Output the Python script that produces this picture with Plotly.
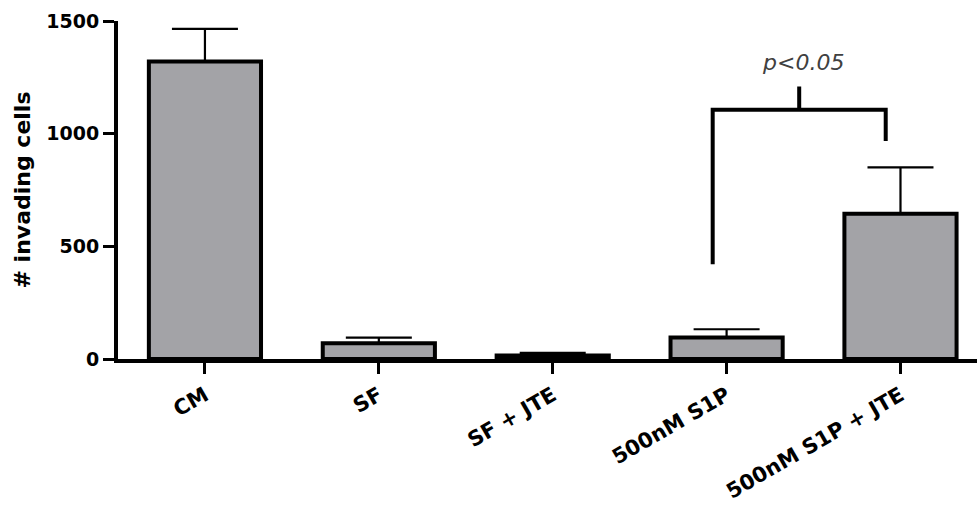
import plotly.graph_objects as go

# ---- data ----
categories = ["CM", "SF", "SF + JTE", "500nM S1P", "500nM S1P + JTE"]
means = [1320, 70, 15, 95, 645]
sem = [145, 25, 12, 37, 205]
y_ticks = [0, 500, 1000, 1500]
y_title = "# invading cells"
sig_label = "p<0.05"

# significance bracket (data units)
br_x_left, br_x_right = 2.92, 3.915
br_y_left_bottom, br_y_right_bottom = 420, 968
br_y_top, br_y_tick = 1106, 1209

FONT = "DejaVu Sans, Arial, sans-serif"
x_pos = list(range(len(categories)))

fig = go.Figure()
fig.add_trace(go.Bar(
    x=x_pos, y=means, width=0.645,
    marker=dict(color="#a3a3a7", line=dict(color="black", width=4)),
    error_y=dict(type="data", symmetric=False, array=sem,
                 arrayminus=[0] * len(sem), color="black",
                 thickness=2.2, width=33),
    showlegend=False, hoverinfo="skip",
))

xm = (br_x_left + br_x_right) / 2
path = (f"M {br_x_left},{br_y_left_bottom} L {br_x_left},{br_y_top} "
        f"L {br_x_right},{br_y_top} L {br_x_right},{br_y_right_bottom} "
        f"M {xm},{br_y_top} L {xm},{br_y_tick}")
fig.add_shape(type="path", path=path, xref="x", yref="y",
              line=dict(color="black", width=4))
fig.add_annotation(x=xm + 0.02, y=1316, xref="x", yref="y", text=sig_label,
                   showarrow=False, yanchor="middle",
                   font=dict(family=FONT, size=22, color="#404040", style="italic"))

fig.update_layout(
    width=977, height=508,
    margin=dict(l=118, r=0, t=21, b=149),
    paper_bgcolor="white", plot_bgcolor="white",
    xaxis=dict(range=[-0.5, 4.44], tickmode="array", tickvals=x_pos,
               ticktext=categories, tickangle=-30, automargin=False,
               showline=True, linecolor="black", linewidth=4,
               ticks="outside", ticklen=11, tickwidth=3, tickcolor="black",
               ticklabelstandoff=1,
               tickfont=dict(family=FONT, size=21, color="black", weight=700),
               showgrid=False, zeroline=False, fixedrange=True),
    yaxis=dict(range=[0, 1500], tickmode="array", tickvals=y_ticks,
               automargin=False,
               showline=True, linecolor="black", linewidth=4,
               ticks="outside", ticklen=11, tickwidth=3, tickcolor="black",
               tickfont=dict(family=FONT, size=19, color="black", weight=700),
               title=dict(text=y_title, standoff=11,
                          font=dict(family=FONT, size=22, color="black", weight=700)),
               showgrid=False, zeroline=False, fixedrange=True),
)

fig.write_html("out.html", config={"displayModeBar": False},
               post_script="document.body.style.margin='0';"
                           "document.body.style.overflow='hidden';")
